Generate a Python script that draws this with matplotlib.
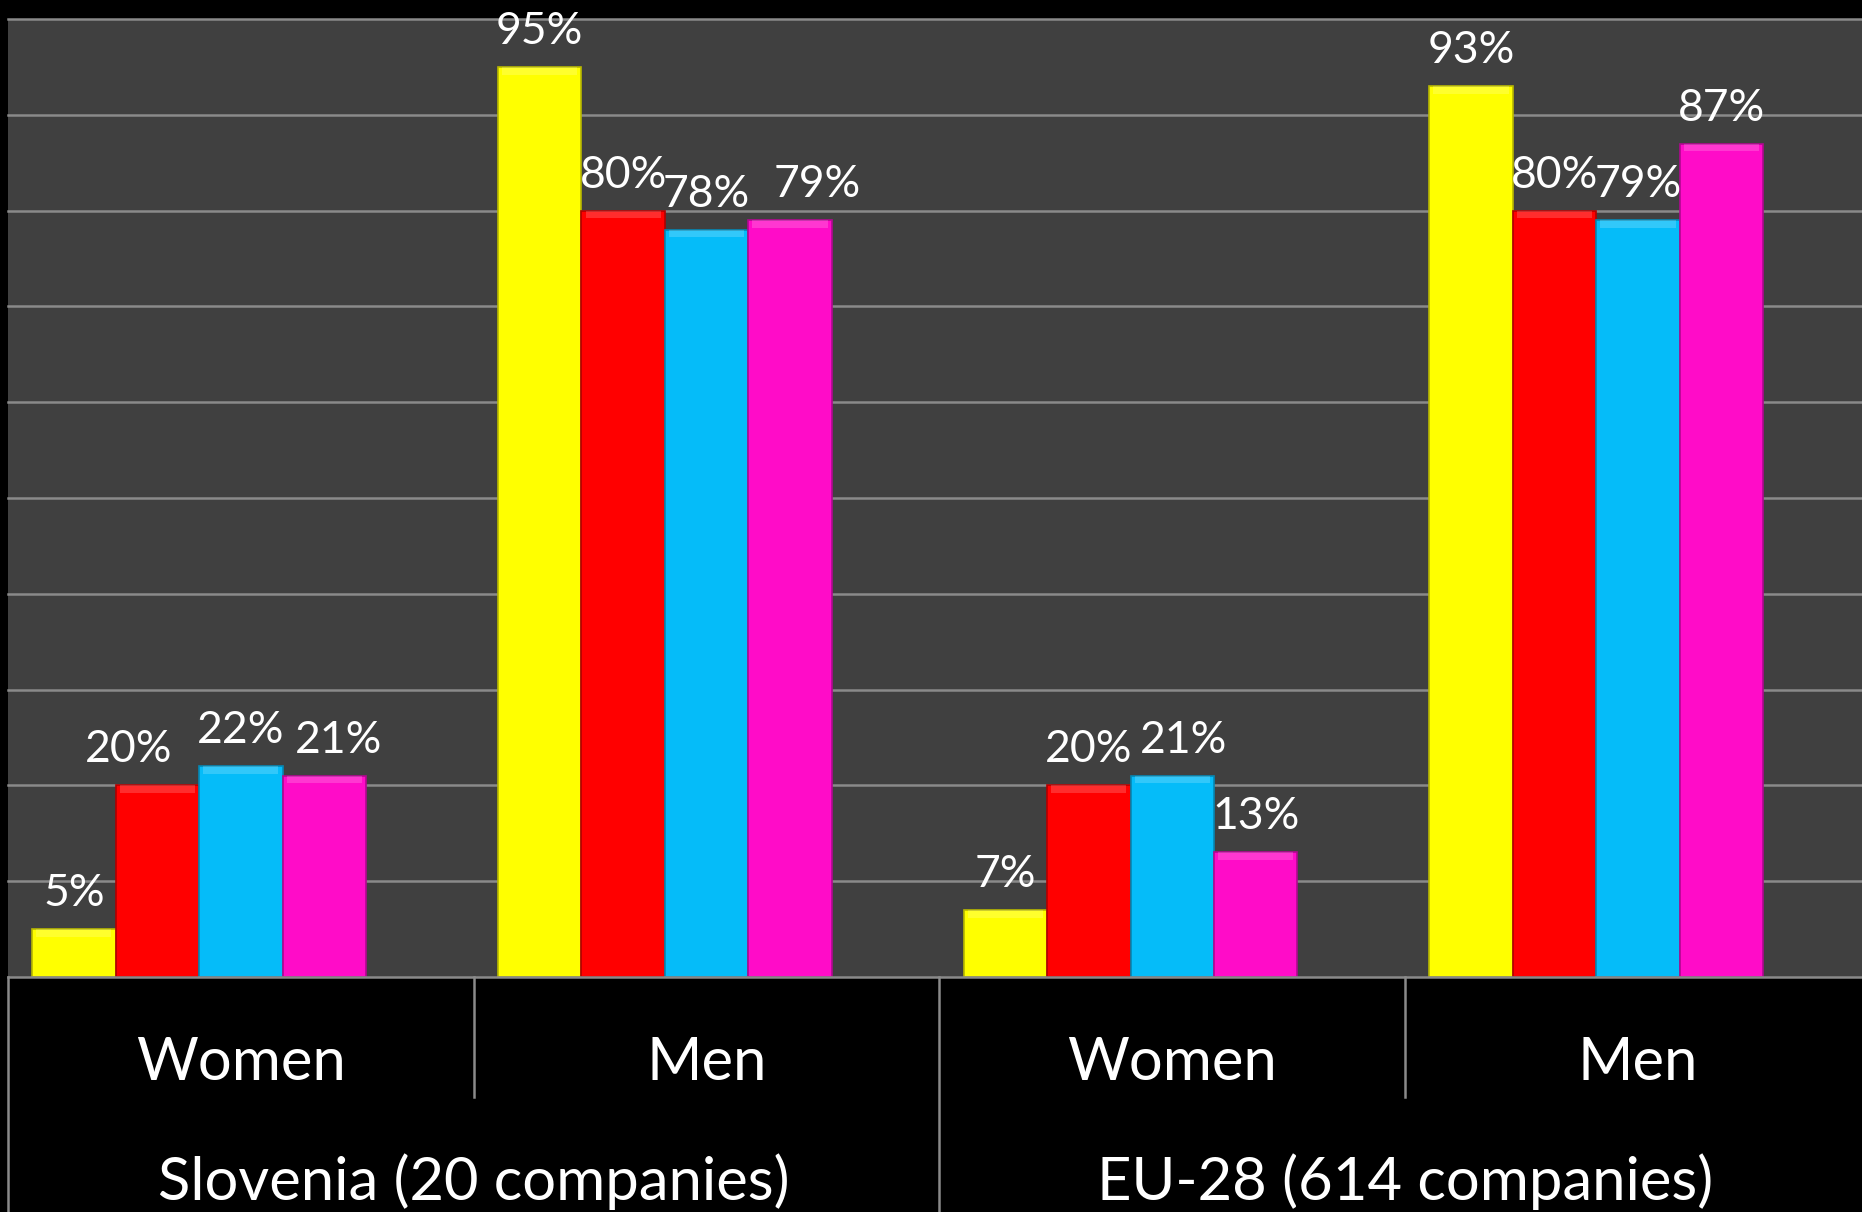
import matplotlib
matplotlib.use("Agg")
import matplotlib.pyplot as plt
import matplotlib.transforms as mtransforms
import numpy as np

plt.rcParams['font.family'] = ['Lato', 'DejaVu Sans']

# ---- data ----
groups = ["Slovenia (20 companies)", "EU-28 (614 companies)"]
subcats = ["Women", "Men", "Women", "Men"]
series_colors = ["#FFFF00", "#FF0000", "#05BCF9", "#FF0CC8"]
series_edges = ["#B8B800", "#B00000", "#0488B4", "#B00890"]
s1 = [5, 95, 7, 93]
s2 = [20, 80, 20, 80]
s3 = [22, 78, 21, 79]
s4 = [21, 79, 13, 87]
series = [s1, s2, s3, s4]
n_slots = 5  # chart reserves 5 bar slots per category (5th empty)

# manual label nudges (fraction of bar width), per series per category
label_nudge = [
    [0, 0, 0, 0],
    [-0.34, 0, 0, 0],
    [0, 0, 0.14, 0],
    [0.17, 0.33, 0, 0],
]

W, H = 1862, 1212
fig = plt.figure(figsize=(W / 100, H / 100), dpi=100)
fig.patch.set_facecolor("black")

left_px, right_px = 8, 8 + 4 * 465.7
top_px, base_px = 19, 977
ax = fig.add_axes([left_px / W, 1 - base_px / H, (right_px - left_px) / W, (base_px - top_px) / H])
ax.set_facecolor("#404040")
ax.set_xlim(0, 4)
ax.set_ylim(0, 100)

for y in range(10, 101, 10):
    ax.axhline(y, color="#8A8A8A", lw=1.8, zorder=1, clip_on=False)

bw = 0.896 / n_slots
x0 = np.arange(4) + 0.052
for i, vals in enumerate(series):
    xs = x0 + bw * (i + 0.5)
    ax.bar(xs, vals, width=bw, color=series_colors[i], edgecolor=series_edges[i],
           lw=1.2, zorder=3)
    # top highlight (bevel)
    ax.bar(xs, [0.8] * 4, bottom=np.array(vals) - 0.8, width=bw * 0.9,
           color="white", alpha=0.18, lw=0, zorder=4)
    for k, (x, v) in enumerate(zip(xs, vals)):
        ax.text(x + label_nudge[i][k] * bw, v + 2.4, f"{v}%", ha="center", va="baseline",
                color="white", fontsize=32, zorder=5)

for s in ax.spines.values():
    s.set_visible(False)
ax.tick_params(left=False, bottom=False, labelleft=False, labelbottom=False)

ax.axhline(0, color="#8A8A8A", lw=1.8, zorder=6, clip_on=False)

trans = mtransforms.blended_transform_factory(ax.transData, ax.transAxes)
y_short = (base_px - 1097) / (base_px - top_px)
y_bot = (base_px - H) / (base_px - top_px)
for xb, yb in [(0, y_bot), (1, y_short), (2, y_bot), (3, y_short)]:
    ax.plot([xb, xb], [0, yb], color="#8A8A8A", lw=1.8, transform=trans, clip_on=False)

y_sub = (base_px - 1063) / (base_px - top_px)
y_grp = (base_px - 1182) / (base_px - top_px)
for k, lab in enumerate(subcats):
    ax.text(k + 0.5, y_sub, lab, transform=trans, ha="center", va="center",
            color="white", fontsize=43)
for g, lab in enumerate(groups):
    ax.text(2 * g + 1, y_grp, lab, transform=trans, ha="center", va="center",
            color="white", fontsize=43)

fig.savefig("out.png", dpi=100, facecolor="black")
